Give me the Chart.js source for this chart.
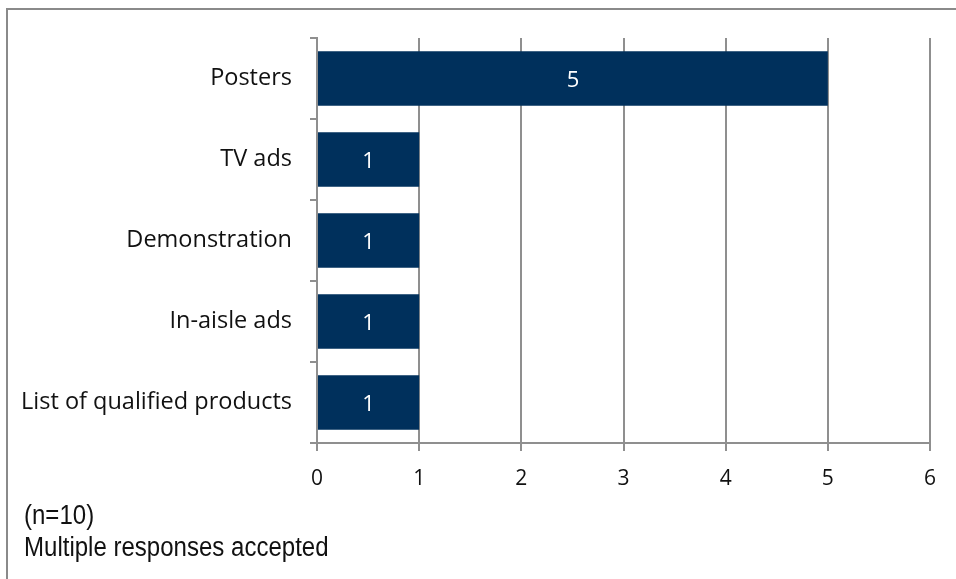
<!DOCTYPE html>
<html>
<head>
<meta charset="utf-8">
<script src="https://cdn.jsdelivr.net/npm/chart.js@4"></script>
<style>
  html, body { margin: 0; padding: 0; background: #fff; }
  body { width: 956px; height: 579px; position: relative; overflow: hidden; }
  #frame {
    position: absolute; left: 6px; top: 8px; right: -4px; bottom: -4px;
    border-top: 2px solid #8a8a8a; border-left: 2px solid #8a8a8a;
  }
  #wrap { position: absolute; left: 0; top: 0; width: 956px; height: 579px; }
  .note {
    position: absolute; left: 24px; white-space: nowrap;
    font-family: "Liberation Sans", Arial, sans-serif;
    font-size: 27px; color: #111;
    transform: scaleX(0.89); transform-origin: 0 0;
  }
</style>
</head>
<body>
<div id="frame"></div>
<div id="wrap"><canvas id="chart" width="956" height="579"></canvas></div>
<div class="note" style="top: 500px;">(n=10)</div>
<div class="note" style="top: 532px;">Multiple responses accepted</div>
<script>
// Données
const categories = ["Posters", "TV ads", "Demonstration", "In-aisle ads", "List of qualified products"];
const counts = [5, 1, 1, 1, 1];
const xTicks = [0, 1, 2, 3, 4, 5, 6];

const barColor = "#00305c";
const gridColor = "#8f8f8f";
const family = "'Open Sans', 'Noto Sans', sans-serif";

// Valeurs en blanc au centre des barres
const barValues = {
  id: "barValues",
  afterDatasetsDraw(chart) {
    const ctx = chart.ctx;
    const meta = chart.getDatasetMeta(0);
    ctx.save();
    ctx.fillStyle = "#ffffff";
    ctx.font = `22px ${family}`;
    ctx.textAlign = "center";
    ctx.textBaseline = "middle";
    meta.data.forEach((bar, i) => {
      const x = (bar.x + bar.base) / 2;
      ctx.fillText(String(counts[i]), x, bar.y + 2);
    });
    ctx.restore();
  }
};

new Chart(document.getElementById("chart"), {
  type: "bar",
  data: {
    labels: categories,
    datasets: [{
      data: counts,
      backgroundColor: barColor,
      borderWidth: 0,
      barPercentage: 0.67,
      categoryPercentage: 1
    }]
  },
  options: {
    indexAxis: "y",
    responsive: false,
    animation: false,
    events: [],
    layout: { padding: { top: 38, right: 26, left: 0, bottom: 0 } },
    plugins: { legend: { display: false }, tooltip: { enabled: false }, title: { display: false } },
    scales: {
      x: {
        min: 0,
        max: 6,
        afterBuildTicks(scale) { scale.ticks = xTicks.map(v => ({ value: v })); },
        afterFit(scale) { scale.height = 579 - 443; },
        grid: { color: gridColor, lineWidth: 2, tickLength: 8, drawTicks: true },
        border: { color: gridColor, width: 2 },
        ticks: { color: "#111", font: { family, size: 21 }, padding: 15 }
      },
      y: {
        afterFit(scale) { scale.width = 317; },
        grid: { drawOnChartArea: false, drawTicks: true, tickLength: 7, color: gridColor, lineWidth: 2, offset: true },
        border: { color: gridColor, width: 2 },
        ticks: { color: "#111", font: { family, size: 23.5 }, padding: 18 }
      }
    }
  },
  plugins: [barValues]
});
</script>
</body>
</html>
